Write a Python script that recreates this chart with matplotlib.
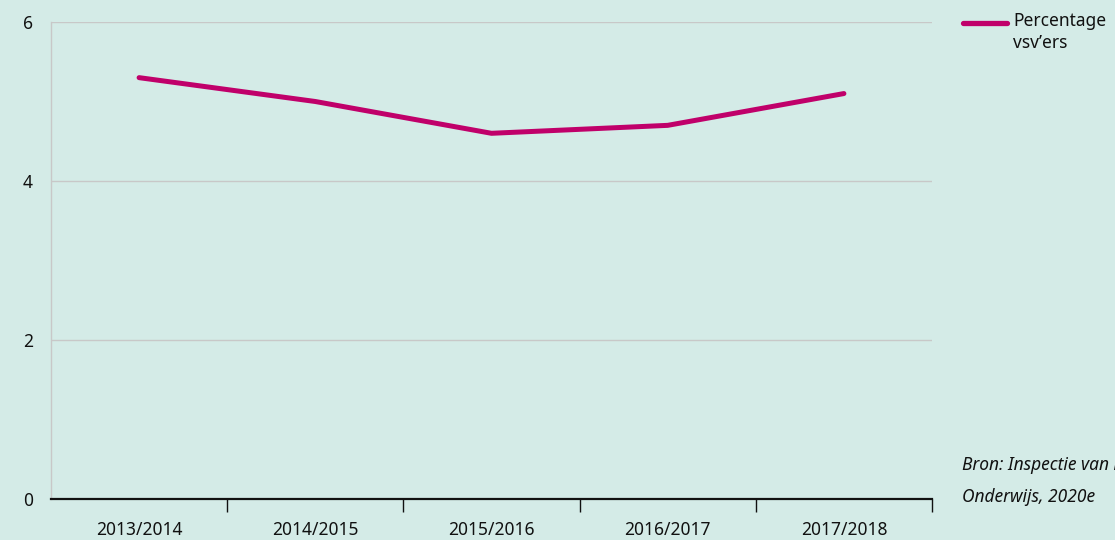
import matplotlib
matplotlib.use("Agg")
import matplotlib.pyplot as plt

categories = ["2013/2014", "2014/2015", "2015/2016", "2016/2017", "2017/2018"]
values = [5.3, 5.0, 4.6, 4.7, 5.1]
yticks = [0, 2, 4, 6]
series_label = "Percentage\nvsv\u2019ers"
source = "Bron: Inspectie van het\nOnderwijs, 2020e"

bg = "#d4ebe7"
line_col = "#c0006a"
plt.rcParams['font.family'] = ['Noto Sans', 'DejaVu Sans']

fig = plt.figure(figsize=(11.15, 5.4), dpi=100, facecolor=bg)
ax = fig.add_axes([51/1115, 41/540, (932-51)/1115, (499-22)/540])
ax.set_facecolor(bg)

x = list(range(len(categories)))
ax.plot(x, values, color=line_col, lw=3.6, solid_capstyle='round', zorder=3)

ax.set_xlim(-0.5, len(categories) - 0.5)
ax.set_ylim(0, 6)
ax.set_yticks(yticks)
ax.set_yticklabels([str(t) for t in yticks], fontsize=12.5, color="#111111")
ax.tick_params(axis='y', length=0, pad=13)
ax.grid(axis='y', color="#c8c8c8", lw=1)
ax.set_axisbelow(True)

ax.set_xticks(x)
ax.set_xticklabels(categories, fontsize=12.5, color="#111111")
ax.tick_params(axis='x', which='major', length=0, pad=16)
ax.set_xticks([i + 0.5 for i in range(len(categories))], minor=True)
ax.tick_params(axis='x', which='minor', length=9, width=1, color="#111111")

for s in ['top', 'right']:
    ax.spines[s].set_visible(False)
ax.spines['left'].set_color("#c8c8c8")
ax.spines['left'].set_linewidth(1)
ax.spines['bottom'].set_color("#111111")
ax.spines['bottom'].set_linewidth(1.6)

# legend
fig.lines.append(matplotlib.lines.Line2D([963/1115, 1007/1115], [517/540, 517/540],
                 color=line_col, lw=3.8, solid_capstyle='round', transform=fig.transFigure))
fig.text(1013/1115, 528/540, series_label, fontsize=12.5, va='top', ha='left',
         color="#111111", linespacing=1.3)
fig.text(962/1115, 84/540, source, fontsize=12.5, style='italic', va='top', ha='left',
         color="#111111", linespacing=2.0)

fig.savefig("out.png", dpi=100, facecolor=bg)
